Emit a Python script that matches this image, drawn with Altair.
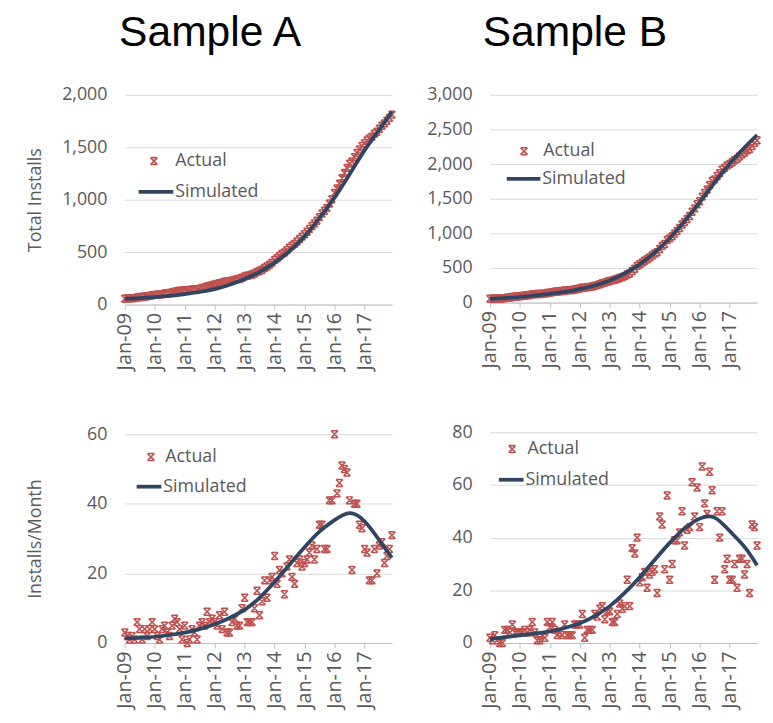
import altair as alt
import pandas as pd

# ---------------- data ----------------
MONTHS = [f"{y}-{m:02d}-01T00:00:00" for y in range(2009, 2018) for m in range(1, 13)]
YEARS = list(range(2009, 2018))

# Sample A – actual installs per month, Jan-09 .. Dec-17
A_2009 = [3, 2, 1, 2, 1, 6, 4, 1, 4, 2, 4, 6]
A_2010 = [4, 2, 1, 4, 5, 3, 2, 5, 7, 6, 4, 1]
A_2011 = [5, 0, 1, 4, 3, 1, 5, 6, 5, 9, 6, 7]
A_2012 = [6, 5, 8, 4, 9, 3, 3, 6, 7, 5, 5, 10]
A_2013 = [13, 6, 6, 6, 10, 15, 8, 12, 18, 13, 18, 19]
A_2014 = [25, 17, 21, 20, 14, 22, 24, 19, 17, 23, 24, 22]
A_2015 = [23, 24, 26, 28, 24, 27, 34, 34, 27, 27, 41, 41]
A_2016 = [60, 43, 46, 51, 50, 49, 41, 21, 40, 40, 34, 33]
A_2017 = [27, 26, 18, 18, 27, 20, 28, 29, 23, 25, 27, 31]
A_BASE = 53  # installs before Jan-09

# Sample B – actual installs per month
B_2009 = [2, 1, 3, 1, 0, 0, 5, 5, 4, 7, 4, 4]
B_2010 = [4, 4, 5, 4, 5, 8, 4, 1, 1, 3, 2, 8]
B_2011 = [6, 8, 5, 3, 4, 3, 7, 3, 3, 3, 7, 7]
B_2012 = [7, 11, 2, 5, 5, 5, 11, 10, 13, 14, 9, 12]
B_2013 = [12, 8, 8, 11, 15, 13, 14, 24, 14, 36, 34, 40]
B_2014 = [23, 25, 27, 21, 26, 27, 28, 19, 48, 45, 28, 56]
B_2015 = [24, 30, 39, 39, 42, 50, 37, 43, 44, 61, 48, 59]
B_2016 = [44, 67, 53, 49, 65, 58, 24, 50, 40, 50, 28, 32]
B_2017 = [24, 24, 30, 21, 32, 32, 26, 30, 19, 45, 44, 37]
B_BASE = 53

# Simulated curves, read every six months (month index from Jan-09)
SIM_IDX = [0, 6, 12, 18, 24, 30, 36, 42, 48, 54, 60, 66, 72, 78, 84, 90, 96, 102, 107]
A_SIM_MONTHLY = [1.3, 1.5, 1.8, 2.3, 3.0, 4.0, 5.4, 7.2, 9.6, 13, 17.5, 22.5, 27.5, 32, 35.3, 37.3, 35, 29.5, 24.5]
A_SIM_TOTAL = [55, 62, 72, 84, 100, 120, 148, 190, 245, 310, 400, 510, 650, 825, 1020, 1240, 1470, 1670, 1840]
B_SIM_MONTHLY = [1.5, 2.2, 2.9, 3.6, 4.4, 5.7, 7.5, 10.2, 14, 19, 25, 31.5, 38, 43.5, 47.2, 47.6, 42.5, 36.5, 29.5]
B_SIM_TOTAL = [55, 66, 81, 101, 125, 155, 195, 248, 321, 420, 552, 722, 930, 1175, 1447, 1733, 2004, 2240, 2420]

RED = "#c0504d"
NAVY = "#2f4563"
GREY = "#595959"
XPATH = "M-1,-1L1,1M1,-1L-1,1M-0.9,-1H0.9M-0.9,1H0.9"


def actual_frame(monthly, base):
    total = (base + pd.Series(monthly).cumsum()).tolist()
    return pd.DataFrame({"date": MONTHS, "monthly": monthly, "total": total, "series": "Actual"})


def sim_frame(monthly, total):
    return pd.DataFrame({"date": [MONTHS[i] for i in SIM_IDX], "monthly": monthly,
                         "total": total, "series": "Simulated"})


A_act = actual_frame(A_2009 + A_2010 + A_2011 + A_2012 + A_2013 + A_2014 + A_2015 + A_2016 + A_2017, A_BASE)
B_act = actual_frame(B_2009 + B_2010 + B_2011 + B_2012 + B_2013 + B_2014 + B_2015 + B_2016 + B_2017, B_BASE)
A_sim = sim_frame(A_SIM_MONTHLY, A_SIM_TOTAL)
B_sim = sim_frame(B_SIM_MONTHLY, B_SIM_TOTAL)


def panel(act, sim, field, ymax, ystep, w, h, ytitle, act_leg, sim_leg, title=None, title_dx=0):
    x = alt.X("date:T", title=None,
              scale=alt.Scale(domain=[alt.DateTime(year=2009, month=1, date=1),
                                      alt.DateTime(year=2017, month=12, date=1)]),
              axis=alt.Axis(values=[alt.DateTime(year=y, month=1, date=1) for y in YEARS],
                            format="%b-%y", labelAngle=-90, grid=False, ticks=True, tickSize=5,
                            domain=True, labelPadding=3, labelFontSize=20))
    ax = dict(values=list(range(0, ymax + 1, ystep)), format=",.0f", grid=True, domain=False,
              ticks=False, labelPadding=18)
    if ytitle:
        ax.update(title=ytitle, titleX=-90, titleY=h / 2, titleAngle=-90,
                  titleBaseline="middle", titleAlign="center")
    else:
        ax.update(title=None)
    y = alt.Y(f"{field}:Q", scale=alt.Scale(domain=[0, ymax]), axis=alt.Axis(**ax))

    mx, my, tx = act_leg
    pts = alt.Chart(act).mark_point(filled=False, strokeWidth=1.5, size=49, color=RED, opacity=1).encode(
        x=x, y=y,
        shape=alt.Shape("series:N", scale=alt.Scale(domain=["Actual"], range=[XPATH]),
                        legend=alt.Legend(title=None, orient="none", legendX=mx - 7.5, legendY=my - 9,
                                          padding=0, symbolSize=49, symbolStrokeWidth=1.6,
                                          symbolStrokeColor=RED, symbolFillColor="transparent",
                                          labelOffset=max(0, tx - (mx + 3.5) - 6))))
    x1, x2, ly = sim_leg
    L = x2 - x1 - 3
    line = alt.Chart(sim).mark_line(strokeWidth=3.8, interpolate="natural").encode(
        x=x, y=y,
        color=alt.Color("series:N", scale=alt.Scale(domain=["Simulated"], range=[NAVY]),
                        legend=alt.Legend(title=None, orient="none", legendX=x1, legendY=ly - L / 2,
                                          padding=0, symbolType="stroke", symbolSize=L * L,
                                          symbolStrokeWidth=3.8, labelOffset=0)))
    props = dict(width=w, height=h)
    if title:
        props["title"] = alt.TitleParams(title, font="Liberation Sans", fontSize=43, fontWeight="normal",
                                         color="#000000", anchor="middle", frame="bounds",
                                         offset=31, dx=title_dx)
    return alt.layer(pts, line).properties(**props).resolve_scale(shape="independent", color="independent")


tA = panel(A_act, A_sim, "total", 2000, 500, 270, 212, "Total Installs",
           (28, 67, 50), (12, 50, 96), title="Sample A", title_dx=-3)
bA = panel(A_act, A_sim, "monthly", 60, 20, 270, 211, "Installs/Month",
           (25, 23, 40), (10, 38, 51))
tB = panel(B_act, B_sim, "total", 3000, 500, 270, 210, None,
           (33, 57, 53), (15, 52, 83), title="Sample B", title_dx=-21)
bB = panel(B_act, B_sim, "monthly", 80, 20, 270, 213, None,
           (21, 17, 37), (7, 35, 46))

RES = dict(x="independent", y="independent", color="independent", shape="independent")
colA = alt.vconcat(tA, bA, spacing=55).resolve_scale(**RES)
colB = alt.vconcat(tB, bB, spacing=55).resolve_scale(**RES)

chart = alt.hconcat(colA, colB, spacing=27).resolve_scale(**RES).properties(
    padding={"left": 18, "top": 1, "right": 0, "bottom": 0}
).configure_view(strokeWidth=0).configure_axis(
    labelFont="Open Sans", labelFontSize=18, labelColor=GREY,
    titleFont="Open Sans", titleFontSize=18, titleColor=GREY, titleFontWeight="normal",
    gridColor="#d9d9d9", gridWidth=1, domainColor="#bfbfbf", tickColor="#bfbfbf"
).configure_legend(
    labelFont="Open Sans", labelFontSize=18, labelColor=GREY
)

chart.save("out.html", embed_options={"renderer": "svg", "actions": False})
